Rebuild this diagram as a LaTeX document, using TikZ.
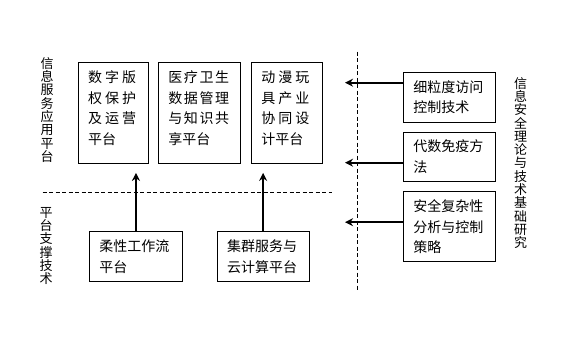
\documentclass[tikz,border=0pt]{standalone}
\usepackage{fontspec}
\newfontfamily\cjk{Noto Sans CJK SC}
\usepackage{tikz}
\usetikzlibrary{positioning,arrows.meta,calc}
% letter-spaced line (justified look)
\newcommand\wideline[2][21]{{\addfontfeature{LetterSpace=#1}#2}}
\tikzset{
  every node/.style={font=\cjk},
  % --- nodes
  box/.style    = {draw=black, line width=0.9pt, align=left, anchor=north west,
                   inner xsep=10pt, inner ysep=4pt,
                   font=\cjk\fontsize{14}{20.5}\selectfont},
  appbox/.style = {box, minimum height=101pt},
  techbox/.style= {box, minimum height=50pt},
  secbox/.style = {box, text width=72pt},
  vlabel/.style = {align=center, inner sep=0pt,
                   font=\cjk\fontsize{13}{13.3}\selectfont},
  % --- edges
  sep/.style    = {line width=0.8pt, dash pattern=on 4pt off 2.5pt},
  arr/.style    = {line width=2.4pt, -{Stealth[length=8pt,width=8pt]}},
}
\begin{document}
\begin{tikzpicture}[x=1pt,y=-1pt]
  \useasboundingbox (0,0) rectangle (567,340);

  % layer labels
  \node[vlabel] (lapp)  at (47,110)    {信\\息\\服\\务\\应\\用\\平\\台};
  \node[vlabel] (lsup)  at (46,246)    {平\\台\\支\\撑\\技\\术};
  \node[vlabel] (lsec)  at (520.7,163) {信\\息\\安\\全\\理\\论\\与\\技\\术\\基\\础\\研\\究};

  % application platforms
  \node[appbox, text width=50pt] (app1) at (77.7,62)
    {\wideline{数字版}\\\wideline{权保护}\\\wideline{及运营}\\平台\\[-10pt]\mbox{}};
  \node[appbox, text width=62pt] (app2) at (158,62)
    {\wideline[11]{医疗卫生}\\\wideline[11]{数据管理}\\\wideline[11]{与知识共}\\享平台\\[-10pt]\mbox{}};
  \node[appbox, text width=51pt] (app3) at (251,62)
    {\wideline{动漫玩}\\\wideline{具产业}\\\wideline{协同设}\\计平台\\[-10pt]\mbox{}};

  % support techniques
  \node[techbox, text width=73pt] (flow)  at (89,231)    {柔性工作流\\平台};
  \node[techbox, text width=72pt] (cloud) at (216.7,231) {集群服务与\\云计算平台};

  % security research
  \node[secbox, minimum height=50pt] (acc) at (403,71.7)  {细粒度访问\\控制技术};
  \node[secbox, minimum height=49pt] (imm) at (403,131.7) {代数免疫方\\法};
  \node[secbox, minimum height=70pt] (cpx) at (403,191.2) {安全复杂性\\分析与控制\\策略};

  % separators
  \draw[sep] (42.7,192.3) -- (332,192.3);
  \draw[sep] (357.3,51.7) -- (357.3,290);

  % arrows
  \coordinate (tipx) at (345,0);
  \draw[arr] (flow.north)  -- ($(flow.north |- app1.south)+(0,9)$);
  \draw[arr] (cloud.north) -- ($(cloud.north |- app3.south)+(0,9)$);
  \draw[arr] ($(acc.north west)+(0,11)$) -- ($(acc.north west -| tipx)+(0,11)$);
  \draw[arr] ($(imm.north west)+(0,31)$) -- ($(imm.north west -| tipx)+(0,31)$);
  \draw[arr] ($(cpx.north west)+(0,31)$) -- ($(cpx.north west -| tipx)+(0,31)$);
\end{tikzpicture}
\end{document}
